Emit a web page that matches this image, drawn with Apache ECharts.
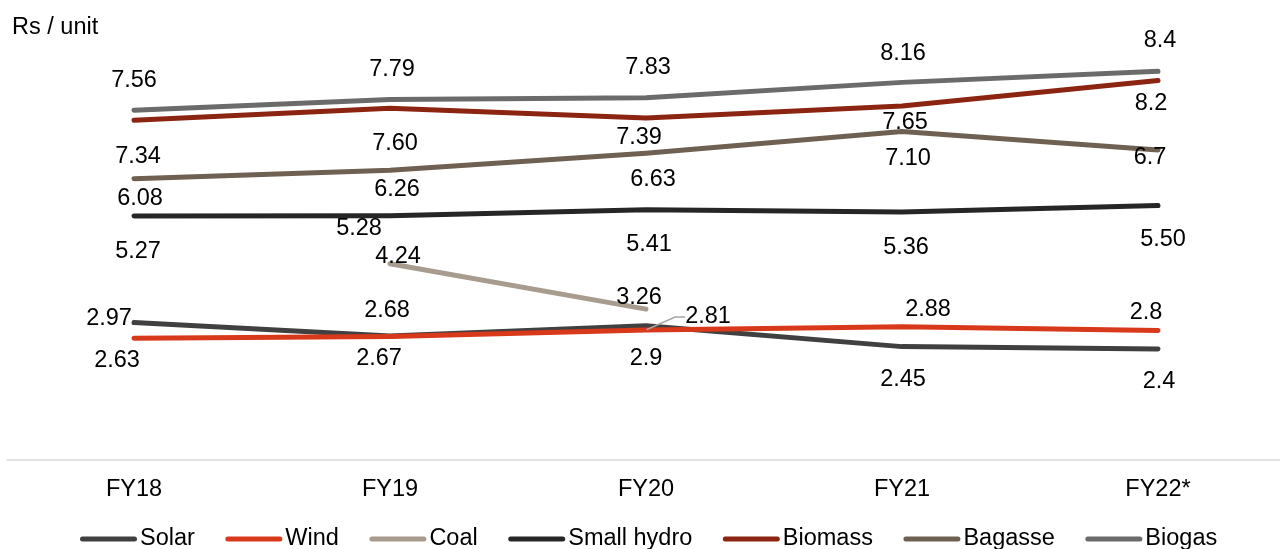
<!DOCTYPE html>
<html>
<head>
<meta charset="utf-8">
<script src="https://cdn.jsdelivr.net/npm/echarts@6/dist/echarts.min.js"></script>
<style>
html,body{margin:0;padding:0;background:#fff;}
#chart{width:1280px;height:549px;}
</style>
</head>
<body>
<div id="chart"></div>
<script>
// ---- data ----
const categories = ['FY18', 'FY19', 'FY20', 'FY21', 'FY22*'];
const solar      = ['2.97', '2.68', '2.9',  '2.45', '2.4'];
const wind       = ['2.63', '2.67', '2.81', '2.88', '2.8'];
const coal       = [null,   '4.24', '3.26', null,   null];
const smallHydro = ['5.27', '5.28', '5.41', '5.36', '5.50'];
const biomass    = ['7.34', '7.60', '7.39', '7.65', '8.2'];
const bagasse    = ['6.08', '6.26', '6.63', '7.10', '6.7'];
const biogas     = ['7.56', '7.79', '7.83', '8.16', '8.4'];
const yAxisName  = 'Rs / unit';

// ---- styling (label offsets relative to point) ----
const FONT = 'Liberation Sans, Arial, sans-serif';
const FS = 23.5;
const labelOffsets = {
  Solar:        [[-25,-4],[-3,-25],[0,33],[1,33],[1,33]],
  Wind:         [[-17,22],[-11,22],[62,-13],[26,-17],[-12,-18]],
  Coal:         [[0,0],[8,-7],[-7,-12],[0,0],[0,0]],
  'Small hydro':[[4,35],[-31,13],[3,35],[4,36],[5,34]],
  Biomass:      [[4,36],[5,35],[-7,20],[3,17],[-7,23]],
  Bagasse:      [[6,20],[7,19],[7,26],[6,27],[-8,8]],
  Biogas:       [[0,-30],[2,-30],[2,-30],[1,-29],[2,-31]]
};
const seriesDefs = [
  {name: 'Solar', values: solar, color: '#404040'},
  {name: 'Wind', values: wind, color: '#D7391A'},
  {name: 'Coal', values: coal, color: '#A89C8E'},
  {name: 'Small hydro', values: smallHydro, color: '#262626'},
  {name: 'Biomass', values: biomass, color: '#8B2411'},
  {name: 'Bagasse', values: bagasse, color: '#6F6152'},
  {name: 'Biogas', values: biogas, color: '#6B6B6B'}
];

const series = seriesDefs.map(def => {
  const offs = labelOffsets[def.name];
  const useLayout = def.name === 'Wind';
  const data = def.values.map((v, i) => {
    if (v === null) return {value: null};
    const item = {
      value: Number(v),
      label: {show: true, position: 'inside', offset: useLayout ? [0, 0] : offs[i], formatter: () => v}
    };
    if (useLayout && i === 2) {
      item.labelLine = {show: true, lineStyle: {color: '#A6A6A6', width: 1.5}, length2: 10};
    }
    return item;
  });
  const s = {
    name: def.name,
    type: 'line',
    xAxisIndex: 0,
    yAxisIndex: 0,
    data: data,
    color: def.color,
    symbol: 'circle',
    symbolSize: 1,
    showSymbol: true,
    showAllSymbol: true,
    connectNulls: false,
    lineStyle: {width: 5, color: def.color, cap: 'round', join: 'round'},
    itemStyle: {color: def.color},
    label: {show: true, color: '#000', fontSize: FS, fontFamily: FONT},
    emphasis: {disabled: true},
    silent: true,
    animation: false
  };
  if (useLayout) {
    s.labelLayout = function (p) {
      const o = offs[p.dataIndex] || [0, 0];
      return {dx: o[0], dy: o[1]};
    };
  }
  return s;
});

const chart = echarts.init(document.getElementById('chart'), null, {renderer: 'canvas'});
chart.setOption({
  animation: false,
  backgroundColor: '#fff',
  title: {
    text: yAxisName, left: 12, top: 16, padding: 0,
    textStyle: {fontSize: FS, fontWeight: 'normal', color: '#000', fontFamily: FONT}
  },
  grid: [
    {left: 134, right: 122, top: 43.5, bottom: 89, containLabel: false},
    {left: 7, right: 0, top: 43.5, bottom: 89, containLabel: false}
  ],
  xAxis: [
    {
      type: 'category', gridIndex: 0,
      data: categories,
      boundaryGap: false,
      axisLine: {show: false},
      axisTick: {show: false},
      splitLine: {show: false},
      axisLabel: {color: '#000', fontSize: FS, fontFamily: FONT, margin: 18}
    },
    {
      type: 'category', gridIndex: 1,
      data: categories,
      boundaryGap: true,
      axisLine: {show: true, lineStyle: {color: '#D9D9D9', width: 1.5}},
      axisTick: {show: false},
      splitLine: {show: false},
      axisLabel: {show: false}
    }
  ],
  yAxis: [
    {type: 'value', gridIndex: 0, min: 0, max: 9, show: false, splitLine: {show: false}},
    {type: 'value', gridIndex: 1, min: 0, max: 9, show: false, splitLine: {show: false}}
  ],
  legend: {
    left: 80, top: 527, padding: 0,
    itemWidth: 57, itemHeight: 5, itemGap: 30.5,
    icon: 'path://M2.5,0 L54.5,0 A2.5,2.5 0 0 1 54.5,5 L2.5,5 A2.5,2.5 0 0 1 2.5,0 Z',
    textStyle: {color: '#000', fontSize: FS, fontFamily: FONT, padding: [0,0,0,-2]},
    data: seriesDefs.map(d => d.name)
  },
  series: series
});
</script>
</body>
</html>
